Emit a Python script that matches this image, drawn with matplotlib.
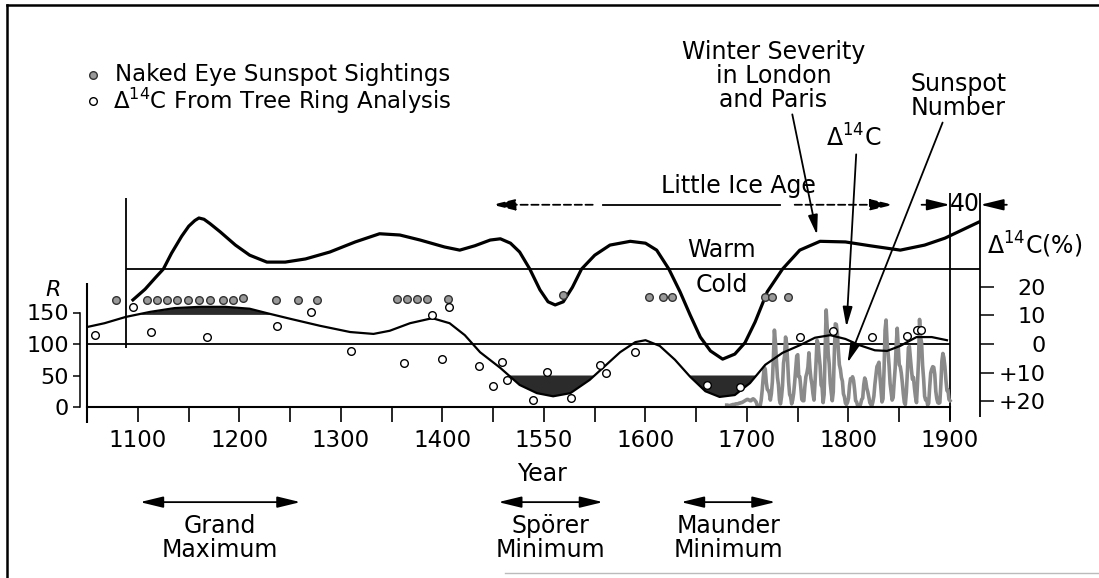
import matplotlib.pyplot as plt
from matplotlib.lines import Line2D

# winter severity in London and Paris (upper curve, arbitrary units on the R scale)
winter_years = [1095, 1107, 1117, 1125, 1133, 1143, 1150, 1156, 1160, 1165, 1171, 1181,
                1196, 1210, 1227, 1245, 1265, 1289, 1314, 1338, 1358, 1378, 1402, 1417,
                1432, 1447, 1457, 1467, 1476, 1486, 1496, 1504, 1511, 1519, 1528, 1537,
                1550, 1565, 1585, 1600, 1611, 1623, 1634, 1644, 1654, 1664, 1676, 1688,
                1698, 1708, 1720, 1735, 1752, 1772, 1797, 1821, 1851, 1875, 1895, 1929]
winter_index = [170, 187, 205, 219, 244, 271, 287, 296, 300, 298, 291, 278,
                257, 241, 230, 230, 235, 246, 262, 275, 273, 265, 254, 249,
                256, 265, 267, 260, 246, 219, 186, 167, 162, 167, 190, 219,
                241, 257, 263, 260, 249, 219, 183, 146, 111, 89, 76, 84,
                102, 135, 183, 219, 249, 263, 262, 256, 249, 257, 268, 294]

# smoothed delta 14C curve (lower curve, on the R scale)
c14_years = [1050, 1067, 1088, 1112, 1136, 1161, 1186, 1210, 1227, 1250, 1279, 1309,
             1332, 1348, 1368, 1390, 1407, 1422, 1437, 1457, 1476, 1493, 1509, 1526,
             1545, 1560, 1575, 1590, 1600, 1614, 1629, 1644, 1659, 1673, 1688, 1703,
             1718, 1735, 1752, 1767, 1782, 1797, 1811, 1826, 1838, 1851, 1867, 1882, 1897]
c14_curve = [127, 133, 143, 151, 157, 159, 159, 156, 149, 140, 129, 119,
             116, 121, 133, 141, 133, 114, 87, 62, 35, 22, 17, 22,
             43, 65, 87, 103, 106, 97, 75, 48, 25, 16, 19, 38,
             67, 86, 98, 110, 114, 108, 98, 90, 89, 97, 111, 111, 106]

# naked eye sunspot sightings
sighting_years = [1078, 1109, 1119, 1129, 1138, 1149, 1160, 1171, 1184, 1194, 1203,
                  1236, 1258, 1276, 1355, 1365, 1375, 1385, 1405, 1519,
                  1603, 1617, 1626, 1718, 1725, 1740]
sighting_r = [170, 170, 170, 170, 170, 170, 170, 170, 170, 170, 173,
              170, 170, 170, 171, 171, 171, 171, 171, 178,
              175, 175, 175, 175, 175, 175]

# delta 14C from tree ring analysis
tree_years = [1058, 1095, 1113, 1168, 1237, 1270, 1310, 1362, 1390, 1400, 1406,
              1436, 1450, 1459, 1464, 1489, 1503, 1527, 1555, 1561, 1590,
              1661, 1693, 1752, 1785, 1823, 1858, 1867, 1871]
tree_r = [114, 159, 119, 111, 129, 151, 89, 70, 146, 76, 159,
          65, 33, 71, 43, 11, 56, 14, 67, 54, 87,
          35, 32, 111, 121, 111, 113, 122, 122]

# annual sunspot number 1680-1900
sunspot_years = list(range(1680, 1901))
sunspot_number = (
    [3, 3, 2, 2, 3, 3, 4, 4, 4, 5] +
    [5, 5, 6, 6, 7, 7, 8, 9, 10, 11] +
    [12, 12, 11, 10, 10, 12, 13, 12, 10, 8] +
    [3, 0, 0, 2, 11, 27, 47, 63, 60, 39] +
    [28, 26, 22, 11, 21, 40, 78, 122, 103, 73] +
    [47, 35, 11, 5, 16, 34, 70, 81, 111, 101] +
    [73, 40, 20, 16, 5, 11, 22, 40, 60, 81] +
    [83, 48, 48, 31, 12, 10, 10, 32, 48, 54] +
    [63, 86, 61, 45, 36, 21, 11, 38, 70, 106] +
    [101, 82, 66, 35, 31, 7, 20, 92, 154, 126] +
    [85, 68, 38, 23, 10, 24, 83, 132, 131, 118] +
    [90, 67, 60, 47, 41, 21, 16, 6, 4, 7] +
    [14, 34, 45, 43, 48, 42, 28, 10, 8, 2] +
    [0, 1, 5, 12, 14, 35, 46, 41, 30, 24] +
    [16, 7, 4, 2, 8, 17, 36, 50, 64, 67] +
    [71, 48, 28, 8, 13, 57, 122, 138, 103, 86] +
    [65, 37, 24, 11, 15, 40, 62, 98, 125, 96] +
    [67, 64, 54, 39, 21, 7, 4, 23, 55, 94] +
    [96, 77, 59, 44, 47, 30, 16, 7, 38, 74] +
    [139, 111, 102, 66, 45, 17, 11, 12, 3, 6] +
    [32, 54, 60, 64, 63, 52, 25, 13, 7, 6] +
    [7, 36, 73, 85, 78, 64, 42, 26, 27, 12] +
    [10]
)

year_ticks = [1100, 1200, 1300, 1400, 1500, 1600, 1700, 1800, 1900]
year_labels = ['1100', '1200', '1300', '1400', '1550', '1600', '1700', '1800', '1900']
r_ticks = [0, 50, 100, 150]
c14_ticks = [-20, -10, 0, 10, 20]
c14_labels = ['20', '10', '0', '+10', '+20']

warm_level = 219
fs = 17

fig = plt.figure(figsize=(10.99, 5.78), dpi=100)
ax = fig.add_axes([87.25 / 1099, 1 - 407 / 578, 893.2 / 1099, 217.35 / 578])
ax.set_xlim(1050, 1930)
ax.set_ylim(0, 345)
ax.patch.set_visible(False)

for s in ['top', 'right']:
    ax.spines[s].set_visible(False)
ax.spines['left'].set_position(('outward', 5))
ax.spines['left'].set_bounds(0, 150)
ax.spines['left'].set_linewidth(1.1)
ax.spines['bottom'].set_bounds(1050, 1900)
ax.spines['bottom'].set_linewidth(1.5)

ax.set_xticks(year_ticks, labels=year_labels)
ax.set_xticks(range(1050, 1900, 100), minor=True)
ax.tick_params(axis='x', which='both', direction='out', length=11, width=1.2,
               labelsize=16.5, pad=5)
ax.set_yticks(r_ticks)
ax.tick_params(axis='y', direction='out', length=5, width=1.1, labelsize=16, pad=3)

# right hand delta 14C scale (positive values downward)
ax2 = ax.twinx()
ax2.set_ylim(100 / 4.55, (100 - 345) / 4.55)
for s in ax2.spines.values():
    s.set_visible(False)
ax2.set_yticks(c14_ticks, labels=c14_labels)
ax2.tick_params(axis='y', direction='out', length=10, width=1.1, labelsize=16, pad=37)
for lab in ax2.get_yticklabels():
    lab.set_horizontalalignment('right')

# frame lines
ax.vlines(1050, -25, 197, color='black', lw=1.5, clip_on=False)
ax.vlines(1900, -21, 340, color='black', lw=1.3, clip_on=False)
ax.vlines(1930, -16, 340, color='black', lw=1.3, clip_on=False)
ax.vlines(1088, 94, 332, color='black', lw=1.3)
ax.hlines(100, 1050, 1900, color='black', lw=1.3)
ax.hlines(warm_level, 1088, 1930, color='black', lw=1.3)

# series
ax.plot(sunspot_years, sunspot_number, color='#8a8a8a', lw=2.6, zorder=2)
ax.fill_between(c14_years, c14_curve, 147, where=[v > 147 for v in c14_curve],
                interpolate=True, color='#2b2b2b', lw=0, zorder=3)
ax.fill_between(c14_years, c14_curve, 50, where=[v < 50 for v in c14_curve],
                interpolate=True, color='#2b2b2b', lw=0, zorder=3)
ax.plot(c14_years, c14_curve, color='black', lw=1.6, zorder=4)
ax.plot(winter_years, winter_index, color='black', lw=2.3, zorder=4)
ax.plot(sighting_years, sighting_r, 'o', ms=5.5, mfc='#999999', mec='#333333',
        mew=1, zorder=5)
ax.plot(tree_years, tree_r, 'o', ms=5.5, mfc='white', mec='black', mew=1, zorder=5)

# key
ax.plot([1056], [527], 'o', ms=5.5, mfc='#999999', mec='#333333', mew=1, clip_on=False)
ax.plot([1056], [486], 'o', ms=5.5, mfc='white', mec='black', mew=1, clip_on=False)
ax.text(1077, 527, 'Naked Eye Sunspot Sightings', fontsize=16.5, va='center')
ax.text(1075, 486, r'$\mathregular{\Delta^{14}}$C From Tree Ring Analysis',
        fontsize=16.5, va='center')

head = '-|>,head_length=0.7,head_width=0.17'
both = '<|-|>,head_length=0.7,head_width=0.17'
arrow_kw = dict(color='black', lw=1.3, shrinkA=0, shrinkB=0)

# Little Ice Age
ax.text(1692, 350, 'Little Ice Age', fontsize=fs, ha='center', va='center')
ax.annotate('', xy=(1449, 321), xytext=(1548, 321), annotation_clip=False,
            arrowprops=dict(arrowstyle=head, linestyle=(0, (4, 2)), **arrow_kw),
            fontsize=20)
ax.plot([1558, 1733], [321, 321], color='black', lw=1.3, clip_on=False)
ax.annotate('', xy=(1844, 321), xytext=(1747, 321), annotation_clip=False,
            arrowprops=dict(arrowstyle=head, linestyle=(0, (4, 2)), **arrow_kw),
            fontsize=20)
ax.annotate('', xy=(1900, 321), xytext=(1872, 321), annotation_clip=False,
            arrowprops=dict(arrowstyle=head, **arrow_kw), fontsize=20)
ax.annotate('', xy=(1930, 321), xytext=(1956, 321), annotation_clip=False,
            arrowprops=dict(arrowstyle=head, **arrow_kw), fontsize=20)
ax.text(1915, 323, '40', fontsize=fs, ha='center', va='center')

ax.text(1675, 249, 'Warm', fontsize=fs, ha='center', va='center')
ax.text(1675, 194, 'Cold', fontsize=fs, ha='center', va='center')
ax.text(1936, 257, r'$\mathregular{\Delta^{14}}$C(%)', fontsize=fs, va='center')
ax.text(1016, 186, 'R', fontsize=16, style='italic', ha='center', va='center')

# pointers
ax.annotate('Winter Severity\nin London\nand Paris', xy=(1769, 273), xytext=(1726, 526),
            ha='center', va='center', fontsize=fs, linespacing=1.0,
            annotation_clip=False,
            arrowprops=dict(arrowstyle=head, **arrow_kw, relpos=(0.6, 0)))
ax.annotate(r'$\mathregular{\Delta^{14}}$C', xy=(1798, 127), xytext=(1805, 427),
            ha='center', va='center', fontsize=fs, annotation_clip=False,
            arrowprops=dict(arrowstyle=head, **arrow_kw, relpos=(0.55, 0)))
ax.annotate('Sunspot\nNumber', xy=(1799, 70), xytext=(1908, 494),
            ha='center', va='center', fontsize=fs, linespacing=1.0,
            annotation_clip=False,
            arrowprops=dict(arrowstyle=head, **arrow_kw, relpos=(0.35, 0)))

# period markers below the axis
ax.text(1498, -106, 'Year', fontsize=fs, ha='center', va='center')
periods = [(1102, 1260, 'Grand\nMaximum'), (1455, 1558, 'Spörer\nMinimum'),
           (1635, 1728, 'Maunder\nMinimum')]
for x0, x1, name in periods:
    ax.annotate('', xy=(x0, -151), xytext=(x1, -151), annotation_clip=False,
                arrowprops=dict(arrowstyle=both, **arrow_kw), fontsize=20)
    ax.text((x0 + x1) / 2, -208, name, fontsize=fs, ha='center', va='center',
            linespacing=1.0)

# scan border
fig.add_artist(Line2D([7 / 1099, 7 / 1099], [0, 1 - 5 / 578], color='black', lw=1.8))
fig.add_artist(Line2D([7 / 1099, 1], [1 - 5 / 578, 1 - 5 / 578], color='black', lw=1.8))
fig.add_artist(Line2D([505 / 1099, 1], [1 - 573 / 578, 1 - 573 / 578], color='#bbbbbb', lw=1))

fig.savefig('out.png', dpi=100)
